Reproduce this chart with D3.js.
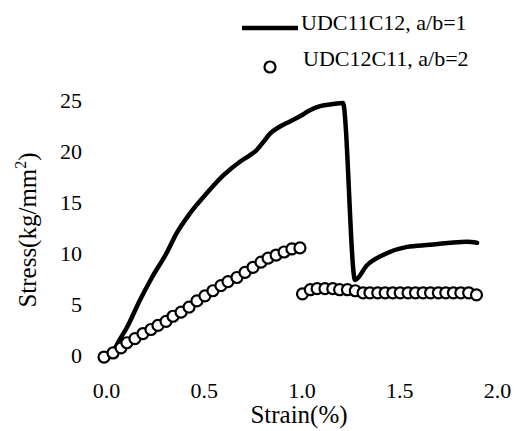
<!DOCTYPE html>
<html>
<head>
<meta charset="utf-8">
<script src="https://cdn.jsdelivr.net/npm/d3@7"></script>
<style>
  html, body { margin: 0; padding: 0; background: #fff; }
  svg { display: block; font-family: "Liberation Serif", "Times New Roman", serif; }
  svg text { font-family: "Liberation Serif", "Times New Roman", serif !important; }
</style>
</head>
<body>
<svg id="chart" width="526" height="431"></svg>
<script>
// ---- data ----
const seriesNames = ["UDC11C12, a/b=1", "UDC12C11, a/b=2"];
const xTicks = [0.0, 0.5, 1.0, 1.5, 2.0];
const yTicks = [0, 5, 10, 15, 20, 25];

const strainA = [0.045, 0.061, 0.107, 0.174, 0.235, 0.31, 0.36, 0.43, 0.515, 0.6, 0.685, 0.737, 0.771, 0.805, 0.839, 0.89, 0.941, 0.992, 1.043, 1.095, 1.16, 1.212, 1.274, 1.335, 1.417, 1.54, 1.657, 1.76, 1.847, 1.898];
const stressA = [0.6, 1.2, 2.7, 5.4, 7.6, 10.0, 11.9, 13.9, 15.85, 17.6, 18.95, 19.6, 20.1, 20.9, 21.7, 22.4, 22.9, 23.4, 24.0, 24.4, 24.6, 24.7, 7.35, 8.8, 9.8, 10.6, 10.8, 11.0, 11.1, 11.0];

const strainB = [-0.01, 0.036, 0.077, 0.107, 0.148, 0.189, 0.230, 0.266, 0.307, 0.343, 0.384, 0.425, 0.465, 0.506, 0.547, 0.588, 0.624, 0.670, 0.711, 0.752, 0.793, 0.829, 0.870, 0.911, 0.951, 0.992,
                 1.005, 1.045, 1.080, 1.120, 1.160, 1.195, 1.235, 1.275, 1.315, 1.350, 1.390, 1.428, 1.467, 1.505, 1.545, 1.583, 1.622, 1.660, 1.700, 1.738, 1.777, 1.815, 1.855, 1.895];
const stressB = [-0.2, 0.2, 0.7, 1.2, 1.6, 2.1, 2.5, 2.9, 3.3, 3.8, 4.2, 4.7, 5.3, 5.8, 6.3, 6.8, 7.2, 7.6, 8.1, 8.6, 9.1, 9.5, 9.8, 10.1, 10.4, 10.5,
                 6.0, 6.4, 6.5, 6.5, 6.5, 6.4, 6.4, 6.3, 6.1, 6.1, 6.1, 6.1, 6.1, 6.1, 6.1, 6.1, 6.1, 6.1, 6.1, 6.1, 6.1, 6.1, 6.1, 5.9];

const xTitle = "Strain(%)";

// ---- drawing ----
const svg = d3.select("#chart");
const x = d3.scaleLinear().domain([0, 2]).range([106, 497]);
const y = d3.scaleLinear().domain([0, 25]).range([355, 100]);
const serif = "'Liberation Serif', 'Times New Roman', serif";

// y axis labels
const yAxis = svg.append("g")
  .attr("transform", "translate(85,0)")
  .call(d3.axisLeft(y).tickValues(yTicks).tickSize(0).tickPadding(3).tickFormat(d3.format("d")));
yAxis.attr("font-family", serif).attr("font-size", 22);
yAxis.select(".domain").remove();
yAxis.selectAll("text").style("font-family", serif).style("font-size", "22px").attr("fill", "#000");

// x axis labels
const xAxis = svg.append("g")
  .attr("transform", "translate(0,379)")
  .call(d3.axisBottom(x).tickValues(xTicks).tickSize(0).tickPadding(3).tickFormat(d3.format(".1f")));
xAxis.attr("font-family", serif).attr("font-size", 22);
xAxis.select(".domain").remove();
xAxis.selectAll("text").style("font-family", serif).style("font-size", "22px").attr("fill", "#000");

// axis titles
svg.append("text")
  .attr("x", 299).attr("y", 423)
  .attr("text-anchor", "middle")
  .attr("font-size", 25)
  .text(xTitle);

const yt = svg.append("text")
  .attr("transform", "translate(36,230) rotate(-90)")
  .attr("text-anchor", "middle")
  .attr("font-size", 25);
yt.append("tspan").text("Stress(kg/mm");
yt.append("tspan").attr("font-size", 16).attr("dy", -10).text("2");
yt.append("tspan").attr("dy", 10).text(")");

// line series
const lineData = strainA.map((s, i) => [s, stressA[i]]);
svg.append("path")
  .datum(lineData)
  .attr("fill", "none")
  .attr("stroke", "#000")
  .attr("stroke-width", 4.5)
  .attr("stroke-linejoin", "round")
  .attr("stroke-linecap", "round")
  .attr("d", d3.line().curve(d3.curveMonotoneX).x(d => x(d[0])).y(d => y(d[1])));

// circle series
const circData = strainB.map((s, i) => [s, stressB[i]]);
svg.append("g").selectAll("circle")
  .data(circData)
  .join("circle")
  .attr("cx", d => x(d[0]))
  .attr("cy", d => y(d[1]))
  .attr("r", 5.5)
  .attr("fill", "#fff")
  .attr("stroke", "#000")
  .attr("stroke-width", 2.2);

// legend
const legend = svg.append("g");
legend.append("line")
  .attr("x1", 242).attr("x2", 298).attr("y1", 28).attr("y2", 28)
  .attr("stroke", "#000").attr("stroke-width", 4.5);
legend.append("text")
  .attr("x", 301).attr("y", 30)
  .attr("font-size", 22)
  .text(seriesNames[0]);
legend.append("circle")
  .attr("cx", 270).attr("cy", 67).attr("r", 5.5)
  .attr("fill", "#fff").attr("stroke", "#000").attr("stroke-width", 2.2);
legend.append("text")
  .attr("x", 303).attr("y", 66)
  .attr("font-size", 22)
  .text(seriesNames[1]);
</script>
</body>
</html>
